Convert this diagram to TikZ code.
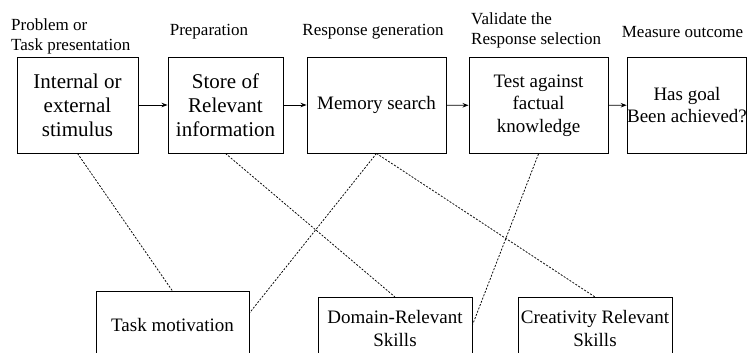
\documentclass[tikz,border=0pt]{standalone}
\usepackage{fontspec}
\setmainfont{Liberation Serif}
\usetikzlibrary{arrows.meta}
\begin{document}
\begin{tikzpicture}[x=1pt,y=-1pt,
  stagebox/.style={draw, line width=0.9pt, inner sep=0pt, align=center,
    minimum height=96pt, font=\fontsize{19}{22.5}\selectfont},
  bigtext/.style={font=\fontsize{21}{24}\selectfont},
  lowbox/.style={draw, line width=0.9pt, inner sep=0pt, anchor=north,
    minimum height=100pt},
  lowtext/.style={align=center, inner sep=0pt, font=\fontsize{19}{23}\selectfont},
  stagehead/.style={inner sep=0pt, font=\fontsize{17}{20}\selectfont},
  flow/.style={line width=0.9pt, -{Stealth[length=6pt,width=4.5pt]}},
  link/.style={line width=0.75pt, dash pattern=on 2pt off 1.5pt}]
\useasboundingbox (0,0) rectangle (747,353);
\clip (0,0) rectangle (747,353);

% stage headings
\node[stagehead, align=left, anchor=west] (h1) at (11,36.5) {Problem or\\Task presentation};
\node[stagehead] (h2) at (209,32) {Preparation};
\node[stagehead] (h3) at (373,32) {Response generation};
\node[stagehead, align=left, anchor=west] (h4) at (471,30.5) {Validate the\\Response selection};
\node[stagehead] (h5) at (682.5,32) {Measure outcome};

% process stages
\node[stagebox, bigtext, minimum width=121pt] (b1) at (77.5,105) {Internal or\\external\\stimulus};
\node[stagebox, bigtext, minimum width=115pt] (b2) at (225.5,105) {Store of\\Relevant\\information};
\node[stagebox, minimum width=139pt] (b3) at (376.5,105) {Memory search};
\node[stagebox, minimum width=139pt] (b4) at (538.5,105.5) {Test against\\factual\\knowledge};
\node[stagebox, minimum width=116pt] (b5) at (687,105) {Has goal\\Been achieved?};

% components
\node[lowbox, minimum width=153pt] (tm) at (172.5,291) {};
\node[lowbox, minimum width=154pt] (dr) at (395,297) {};
\node[lowbox, minimum width=154pt] (cr) at (595,297) {};
\node[lowtext] (tmt) at ([yshift=-34pt]tm.north) {Task motivation};
\node[lowtext] (drt) at ([yshift=-31.5pt]dr.north) {Domain-Relevant\\Skills};
\node[lowtext] (crt) at ([yshift=-31.5pt]cr.north) {Creativity Relevant\\Skills};

% flow between stages
\draw[flow] (b1) -- (b2);
\draw[flow] (b2) -- (b3);
\draw[flow] (b3) -- (b4);
\draw[flow] (b4) -- (b5);

% influence of components on stages
\draw[link] (b1.south) -- (tm.north);
\draw[link] (b2.south) -- (dr.north);
\draw[link] (b3.south) -- ([yshift=-22pt]tm.north east);
\draw[link] (b3.south) -- (cr.north);
\draw[link] (b4.south) -- ([yshift=-28pt]dr.north east);
\end{tikzpicture}
\end{document}
